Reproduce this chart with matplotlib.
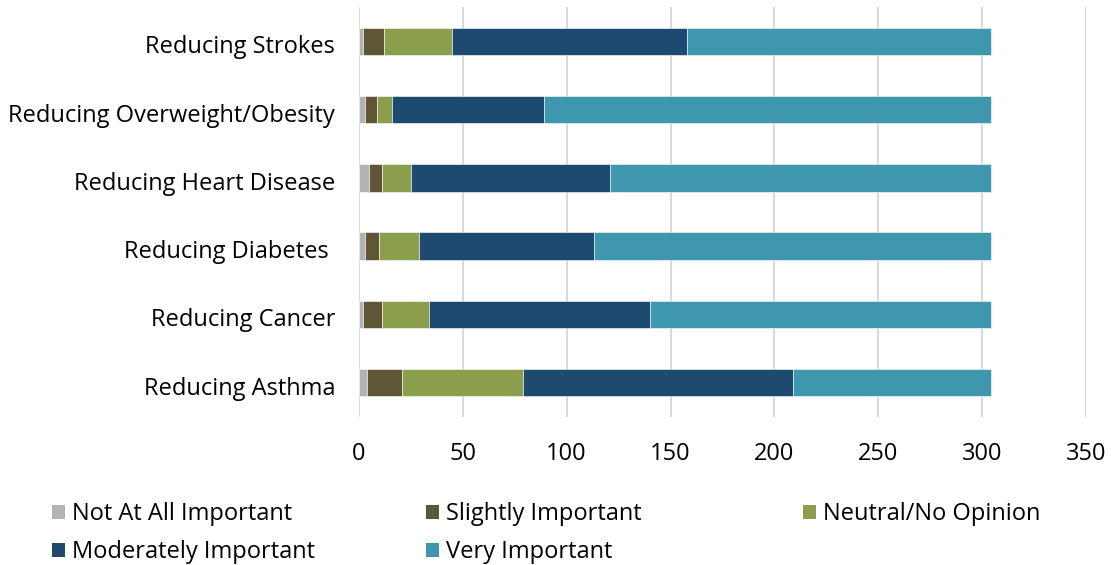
import matplotlib
matplotlib.use("Agg")
from matplotlib import pyplot as plt
from matplotlib.patches import Patch
from matplotlib.transforms import ScaledTranslation
import numpy as np

plt.rcParams['font.family'] = ['Open Sans', 'DejaVu Sans']

# bottom to top, as drawn
categories = ["Reducing Asthma", "Reducing Cancer", "Reducing Diabetes ",
              "Reducing Heart Disease", "Reducing Overweight/Obesity", "Reducing Strokes"]

not_at_all = [4, 2, 3, 5, 3, 2]
slightly = [17, 9, 7, 6, 6, 10]
neutral = [58, 23, 19, 14, 7, 33]
moderately = [130, 106, 84, 96, 73, 113]
very = [95, 164, 191, 183, 215, 146]

series_names = ["Not At All Important", "Slightly Important", "Neutral/No Opinion",
                "Moderately Important", "Very Important"]
colors = ["#B3B3B3", "#5E5635", "#8A9E4B", "#1F4A70", "#3E97AD"]

W, H = 1111, 565
FS = 17
fig = plt.figure(figsize=(W / 100, H / 100), dpi=100)
ax = fig.add_axes([358.7 / W, 1 - 416.7 / H, (1086.3 - 358.7) / W, (416.7 - 7.3) / H])

y = np.arange(len(categories))
left = np.zeros(len(categories))
for vals, name, col in zip([not_at_all, slightly, neutral, moderately, very], series_names, colors):
    ax.barh(y, vals, left=left, height=0.4, color=col, edgecolor="white",
            linewidth=0.4, label=name, zorder=3)
    left += np.array(vals)

ax.set_xlim(0, 350)
ax.set_ylim(-0.5, len(categories) - 0.5)
ax.set_xticks(np.arange(0, 351, 50))
ax.set_yticks(y)
ax.set_yticklabels(categories)
ax.tick_params(axis="y", length=0, pad=17, labelsize=FS, colors="#000000")
ax.tick_params(axis="x", length=0, pad=18, labelsize=FS, colors="#000000")
ax.grid(axis="x", color="#D9D9D9", linewidth=1.4, zorder=0)
for s in ax.spines.values():
    s.set_visible(False)

# excel puts the category labels a touch below the bar centre
shift = ScaledTranslation(0, -3 / 100, fig.dpi_scale_trans)
for lab in ax.get_yticklabels():
    lab.set_transform(lab.get_transform() + shift)

# legend laid out as three columns like the original
handles = [Patch(facecolor=c, edgecolor="none") for c in colors]
cols = [([0, 3], 52), ([1, 4], 426), ([2], 803)]
for idx, xpx in cols:
    fig.legend([handles[i] for i in idx], [series_names[i] for i in idx],
               loc="upper left", bbox_to_anchor=(xpx / W, 1 - 502 / H),
               frameon=False, fontsize=FS, borderpad=0, borderaxespad=0,
               handlelength=0.55, handleheight=0.55, handletextpad=0.3,
               labelspacing=0.6)

fig.savefig("out.png", dpi=100)
